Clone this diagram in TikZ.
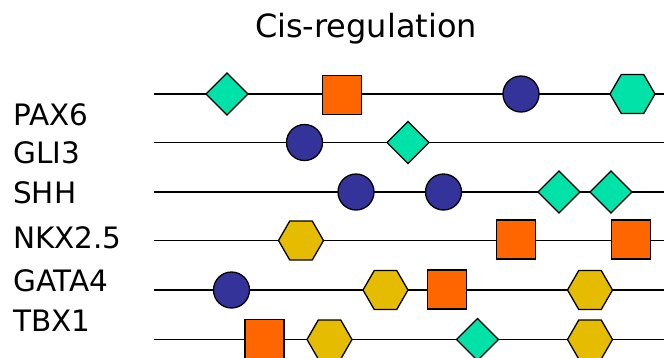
\documentclass[tikz,border=0pt]{standalone}
\usepackage{fontspec}
\setmainfont{DejaVu Sans}
\usetikzlibrary{shapes.geometric}
\definecolor{motgreen}{HTML}{00E2A8}
\definecolor{motorange}{HTML}{FF6600}
\definecolor{motnavy}{HTML}{333399}
\definecolor{motgold}{HTML}{E6BC00}
\tikzset{
  seqline/.style={line width=1.4pt, black},
  motif/.style={draw=black, line width=1.3pt, inner sep=0pt, outer sep=0pt},
  dia/.style={motif, diamond, fill=motgreen, minimum width=42pt, minimum height=42pt},
  sqr/.style={motif, rectangle, fill=motorange, minimum width=39pt, minimum height=39pt},
  circ/.style={motif, circle, fill=motnavy, minimum size=36pt},
  hexg/.style={motif, regular polygon, regular polygon sides=6, minimum size=45pt},
  hexgreen/.style={hexg, fill=motgreen},
  hexgold/.style={hexg, fill=motgold},
  genelabel/.style={anchor=base west, font=\fontsize{29.5}{31}\selectfont, inner sep=0pt}
}
\begin{document}
\begin{tikzpicture}[x=1pt,y=-1pt]
\useasboundingbox (0,0) rectangle (664,357);
\node[anchor=base, font=\fontsize{32}{34}\selectfont, inner sep=0pt] (title) at (366,37) {Cis-regulation};
\node[genelabel] (lpax) at (13,125) {PAX6};
\node[genelabel] (lgli) at (13,163.5) {GLI3};
\node[genelabel] (lshh) at (13,203) {SHH};
\node[genelabel] (lnkx) at (13,248) {NKX2.5};
\node[genelabel] (lgata) at (13,291.5) {GATA4};
\node[genelabel] (ltbx) at (13,331.5) {TBX1};
% backbone lines
\foreach \n/\y in {1/94,2/142.5,3/192,4/240.5,5/290,6/339.5}{
  \coordinate (s\n) at (154,\y);
  \coordinate (e\n) at (664,\y);
  \draw[seqline] (s\n) -- (e\n);
}
% row 1 PAX6
\node[dia] (a1) at (227,94) {};
\node[sqr] (a2) at (342,95) {};
\node[circ] (a3) at (521,94) {};
\node[hexgreen] (a4) at (632.5,94) {};
% row 2 GLI3
\node[circ] (b1) at (304.5,142.5) {};
\node[dia] (b2) at (408,142.5) {};
% row 3 SHH
\node[circ] (c1) at (356,192) {};
\node[circ] (c2) at (443.5,192) {};
\node[dia] (c3) at (559,192) {};
\node[dia] (c4) at (611,192) {};
% row 4 NKX2.5
\node[hexgold] (d1) at (301,240.5) {};
\node[sqr] (d2) at (516,239.5) {};
\node[sqr] (d3) at (631,239.5) {};
% row 5 GATA4
\node[circ] (f1) at (231.5,290) {};
\node[hexgold] (f2) at (385.5,290) {};
\node[sqr] (f3) at (447,289.5) {};
\node[hexgold] (f4) at (590,290) {};
% row 6 TBX1
\node[sqr] (g1) at (264.5,339) {};
\node[hexgold] (g2) at (329.5,339.5) {};
\node[dia] (g3) at (477.5,339.5) {};
\node[hexgold] (g4) at (590,339.5) {};
\end{tikzpicture}
\end{document}
